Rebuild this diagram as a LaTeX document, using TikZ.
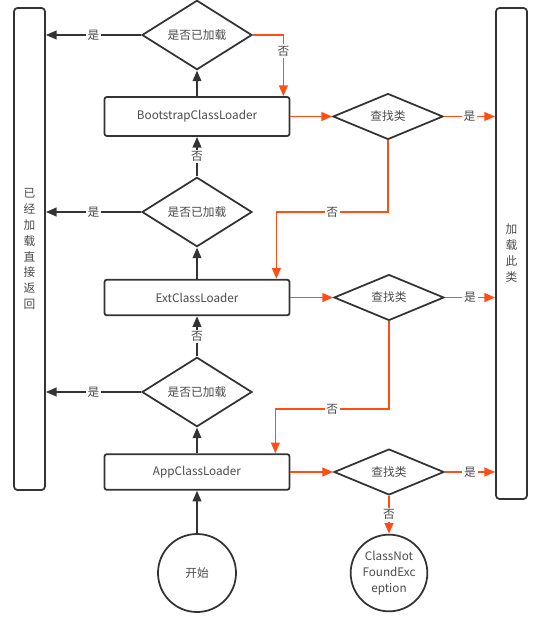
\documentclass[tikz,border=0pt]{standalone}
\usepackage{fontspec}
\setmainfont{Noto Sans CJK SC}
\usetikzlibrary{shapes.geometric,arrows.meta,positioning,calc}
\definecolor{lineGray}{HTML}{333333}
\definecolor{textGray}{HTML}{4A4A4A}
\definecolor{hitOrange}{HTML}{FF4D14}
\tikzset{
  loaderbox/.style = {rectangle, rounded corners=2pt, draw=lineGray, line width=1.5pt, minimum width=5.55cm, minimum height=1.1cm, text=textGray},
  checkdiamond/.style = {diamond, draw=lineGray, line width=1.5pt, inner sep=0pt, minimum width=3.3cm, minimum height=1.62cm, text=textGray},
  finddiamond/.style = {diamond, draw=lineGray, line width=1.5pt, inner sep=0pt, minimum width=3.3cm, minimum height=1.12cm, text=textGray},
  endcircle/.style = {circle, draw=lineGray, line width=1.5pt, inner sep=0pt, minimum size=2.3cm, text=textGray, align=center, font=\fontsize{10}{13.5}\selectfont},
  sidebar/.style = {rectangle, rounded corners=3pt, draw=lineGray, line width=1.5pt, minimum width=0.93cm, text=textGray, align=center, font=\fontsize{10}{13.6}\selectfont},
  flowarrow/.style = {-{Triangle[length=3.2mm,width=2.6mm]}, lineGray, line width=1.5pt},
  missarrow/.style = {-{Triangle[length=3.2mm,width=2.6mm]}, hitOrange, line width=1.5pt},
  edgelabel/.style = {fill=white, inner sep=1.5pt, text=textGray},
}

\begin{document}
\begin{tikzpicture}[x=0.03cm, y=-0.03cm]
\useasboundingbox (0,0) rectangle (542,620);

% side bars
\node[sidebar, minimum height=14.46cm] (loaded) at (29.5,249) {已\\经\\加\\载\\直\\接\\返\\回};
\node[sidebar, minimum height=14.73cm] (loadit) at (511.5,253.5) {加\\载\\此\\类};

% Bootstrap level
\node[checkdiamond] (chkboot) at (197,35) {是否已加载};
\node[loaderbox, minimum height=1.17cm] (boot) at (197,116.5) {BootstrapClassLoader};
\node[finddiamond] (findboot) at (388,116.5) {查找类};

% Ext level
\node[checkdiamond] (chkext) at (197,212) {是否已加载};
\node[loaderbox, minimum height=1.07cm] (ext) at (197,297.5) {ExtClassLoader};
\node[finddiamond] (findext) at (389,297.5) {查找类};

% App level
\node[checkdiamond] (chkapp) at (197,392) {是否已加载};
\node[loaderbox, minimum height=1.07cm] (app) at (197,472) {AppClassLoader};
\node[finddiamond] (findapp) at (389,472) {查找类};

% start and failure
\node[endcircle, minimum size=2.34cm] (start) at (197,573) {开始};
\node[endcircle] (cnfe) at (389,573) {ClassNot\\FoundExc\\eption};

% upward delegation
\draw[flowarrow] (start) -- (app);
\draw[flowarrow] (app) -- (chkapp);
\draw[flowarrow] (chkapp) -- node[edgelabel] {否} (ext);
\draw[flowarrow] (ext) -- (chkext);
\draw[flowarrow] (chkext) -- node[edgelabel] {否} (boot);
\draw[flowarrow] (boot) -- (chkboot);

% already loaded
\draw[flowarrow] (chkboot.west) -- node[edgelabel] {是} (chkboot.west -| loaded.east);
\draw[flowarrow] (chkext.west) -- node[edgelabel] {是} (chkext.west -| loaded.east);
\draw[flowarrow] (chkapp.west) -- node[edgelabel] {是} (chkapp.west -| loaded.east);

% searching downward
\draw[missarrow] (chkboot.east) -| node[pos=0.63, edgelabel] {否} ($(boot.north east)+(-7,0)$);
\draw[missarrow] (boot) -- (findboot);
\draw[missarrow] (ext) -- (findext);
\draw[missarrow] (app) -- (findapp);
\draw[missarrow] (findboot.east) -- node[edgelabel] {是} (findboot.east -| loadit.west);
\draw[missarrow] (findext.east) -- node[edgelabel] {是} (findext.east -| loadit.west);
\draw[missarrow] (findapp.east) -- node[edgelabel] {是} (findapp.east -| loadit.west);
\draw[missarrow] (findboot.south) -- ++(0,72) -| node[pos=0.25, edgelabel] {否} ($(ext.north east)+(-14,0)$);
\draw[missarrow] (findext.south) -- ++(0,88) -| node[pos=0.25, edgelabel] {否} ($(app.north east)+(-15,0)$);
\draw[missarrow] (findapp) -- node[edgelabel] {否} (cnfe);

\end{tikzpicture}
\end{document}
